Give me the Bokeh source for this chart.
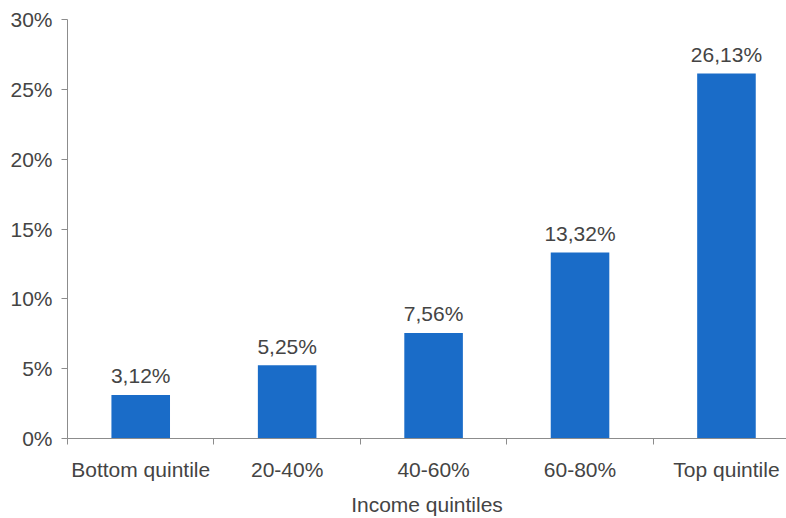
from bokeh.plotting import figure
from bokeh.models import FixedTicker, ColumnDataSource, Range1d, CustomJSTickFormatter
from bokeh.core.properties import value
from bokeh.embed import file_html
from bokeh.resources import INLINE

categories = ["Bottom quintile", "20-40%", "40-60%", "60-80%", "Top quintile"]
shares = [3.12, 5.25, 7.56, 13.32, 26.13]
value_labels = ["3,12%", "5,25%", "7,56%", "13,32%", "26,13%"]
y_ticks = [0, 5, 10, 15, 20, 25, 30]

xs = [i + 0.5 for i in range(len(categories))]
src = ColumnDataSource(dict(x=xs, top=shares, lab=value_labels))

FONT = "Liberation Sans"
TXT = "#444444"
AX = "#8c8c8c"
FS = "21px"

p = figure(width=786, height=518, output_backend="svg", toolbar_location=None,
           x_range=Range1d(0, 4.91), y_range=Range1d(0, 30),
           min_border_left=67, min_border_right=0, min_border_top=19, min_border_bottom=80)
p.outline_line_color = None
p.grid.grid_line_color = None

p.vbar(x="x", top="top", width=0.4, bottom=0, source=src, fill_color="#1a6cc8", line_color=None)
p.text(x="x", y="top", text="lab", source=src, text_align="center", text_baseline="alphabetic",
       y_offset=-19, text_font=value(FONT), text_font_size=FS, text_color=TXT)

# x axis
p.xaxis.ticker = FixedTicker(ticks=xs, minor_ticks=list(range(len(categories) + 1)))
p.xaxis.formatter = CustomJSTickFormatter(args=dict(cats=categories),
                                          code="return cats[Math.round(tick - 0.5)];")
p.xaxis.major_tick_line_color = None
p.xaxis.minor_tick_line_color = AX
p.xaxis.minor_tick_out = 6
p.xaxis.minor_tick_in = 0
p.xaxis.axis_line_color = AX
p.xaxis.major_label_text_font = FONT
p.xaxis.major_label_text_font_size = FS
p.xaxis.major_label_text_color = TXT
p.xaxis.major_label_standoff = 13
p.xaxis.axis_label = "Income quintiles"
p.xaxis.axis_label_text_font = FONT
p.xaxis.axis_label_text_font_size = FS
p.xaxis.axis_label_text_font_style = "normal"
p.xaxis.axis_label_text_color = TXT
p.xaxis.axis_label_standoff = 9

# y axis
p.yaxis.ticker = FixedTicker(ticks=y_ticks, minor_ticks=[])
p.yaxis.formatter = CustomJSTickFormatter(code="return tick.toFixed(0) + '%';")
p.yaxis.major_tick_line_color = AX
p.yaxis.major_tick_out = 6
p.yaxis.major_tick_in = 0
p.yaxis.minor_tick_line_color = None
p.yaxis.axis_line_color = AX
p.yaxis.major_label_text_font = FONT
p.yaxis.major_label_text_font_size = FS
p.yaxis.major_label_text_color = TXT
p.yaxis.major_label_standoff = 9

open("out.html", "w").write(file_html(p, INLINE))
